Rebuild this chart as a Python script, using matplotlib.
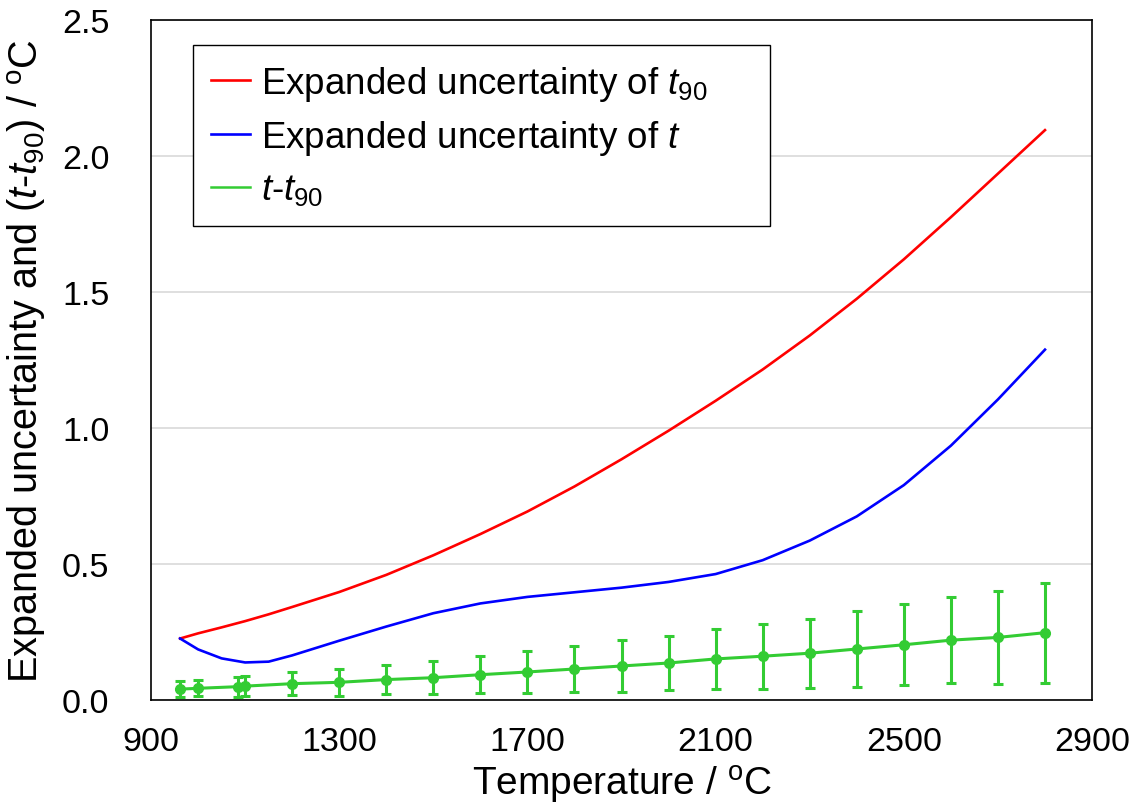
import matplotlib
matplotlib.use("Agg")
import matplotlib.pyplot as plt
from matplotlib.ticker import FormatStrFormatter, MultipleLocator

plt.rcParams['font.family'] = ['Liberation Sans', 'DejaVu Sans']
plt.rcParams['mathtext.fontset'] = 'custom'
plt.rcParams['mathtext.rm'] = 'Liberation Sans'
plt.rcParams['mathtext.it'] = 'Liberation Sans:italic'

# Uncertainty curves
temp_curve = [961.78, 1000, 1050, 1100, 1150, 1200, 1300, 1400, 1500, 1600, 1700,
              1800, 1900, 2000, 2100, 2200, 2300, 2400, 2500, 2600, 2700, 2800]
u_t90 = [0.226, 0.245, 0.267, 0.290, 0.315, 0.342, 0.397, 0.460, 0.532, 0.610, 0.693,
         0.785, 0.885, 0.990, 1.100, 1.215, 1.340, 1.475, 1.620, 1.775, 1.935, 2.095]
u_t = [0.226, 0.186, 0.153, 0.138, 0.141, 0.164, 0.218, 0.270, 0.319, 0.355, 0.379,
       0.396, 0.413, 0.434, 0.463, 0.514, 0.586, 0.675, 0.790, 0.935, 1.105, 1.288]

# t - t90 with error bars
temp_pts = [961.78, 1000, 1084.62, 1100, 1200, 1300, 1400, 1500, 1600, 1700, 1800,
            1900, 2000, 2100, 2200, 2300, 2400, 2500, 2600, 2700, 2800]
diff = [0.040, 0.043, 0.049, 0.051, 0.060, 0.065, 0.075, 0.082, 0.093, 0.103, 0.114,
        0.125, 0.136, 0.151, 0.161, 0.172, 0.1875, 0.203, 0.220, 0.230, 0.2475]
diff_err = [0.030, 0.030, 0.037, 0.038, 0.042, 0.049, 0.052, 0.061, 0.069, 0.078, 0.083,
            0.094, 0.101, 0.110, 0.120, 0.127, 0.140, 0.149, 0.159, 0.170, 0.184]

x_ticks = [900, 1300, 1700, 2100, 2500, 2900]

fig = plt.figure(figsize=(11.34, 8.12), dpi=100)
ax = fig.add_axes([0.1332, 0.1367, 0.8298, 0.8375])

red = '#ff0000'
blue = '#0000ff'
green = '#33cc33'

l1, = ax.plot(temp_curve, u_t90, color=red, lw=1.9, zorder=3)
l2, = ax.plot(temp_curve, u_t, color=blue, lw=1.9, zorder=3)
ax.errorbar(temp_pts, diff, yerr=diff_err, color=green, lw=2.2, elinewidth=2.2,
            capsize=3.5, capthick=2.2, marker='o', markersize=7.0, zorder=4)
l3, = ax.plot([], [], color=green, lw=1.8)

ax.set_xlim(900, 2900)
ax.set_ylim(0, 2.5)
ax.set_xticks(x_ticks)
ax.yaxis.set_major_locator(MultipleLocator(0.5))
ax.yaxis.set_major_formatter(FormatStrFormatter('%.1f'))
ax.grid(axis='y', color='#d9d9d9', lw=1.2, zorder=0)
ax.set_axisbelow(True)
ax.tick_params(length=0, labelsize=24.5)
ax.tick_params(axis='x', pad=19)
ax.tick_params(axis='y', pad=30)
for s in ax.spines.values():
    s.set_color('black')
    s.set_linewidth(1.2)

ax.set_xlabel(r'Temperature / $^{\mathrm{o}}$C', fontsize=28, labelpad=4)
ax.set_ylabel(r'Expanded uncertainty and ($\mathit{t}$-$\mathit{t}_{90}$) / $^{\mathrm{o}}$C',
              fontsize=28.5, labelpad=10)

leg = ax.legend([l1, l2, l3],
                [r'Expanded uncertainty of $\mathit{t}_{90}$',
                 r'Expanded uncertainty of $\mathit{t}$',
                 r'$\mathit{t}$-$\mathit{t}_{90}$'],
                loc='upper left', bbox_to_anchor=(0.0446, 0.704, 0.613, 0.259),
                mode='expand', borderaxespad=0,
                fontsize=26.5, handlelength=1.05, handletextpad=0.3, labelspacing=0.42,
                fancybox=False, framealpha=1, edgecolor='black', borderpad=0.5)
leg.get_frame().set_linewidth(1.0)

fig.savefig('out.png', dpi=100)
